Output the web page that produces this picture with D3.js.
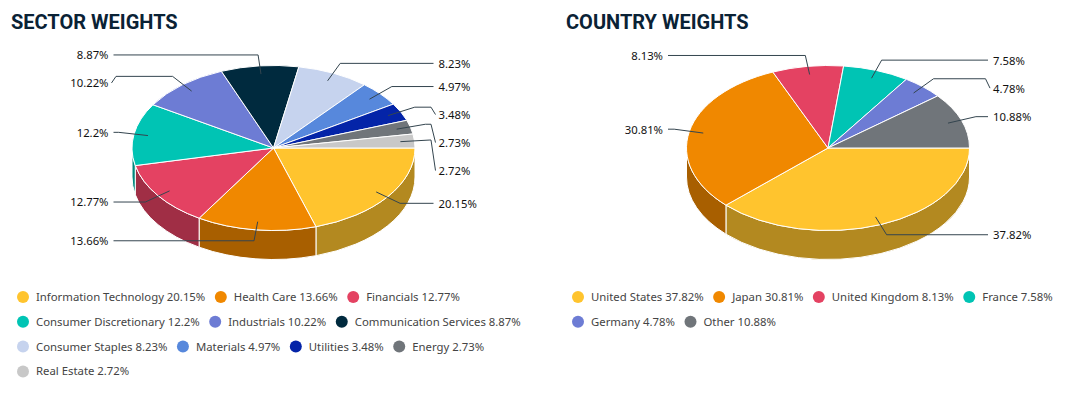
<!DOCTYPE html>
<html>
<head>
<meta charset="utf-8">
<script src="https://cdn.jsdelivr.net/npm/d3@7"></script>
<style>
    html, body { margin: 0; padding: 0; background: #fff; overflow: hidden; }
</style>
</head>
<body>
<div id="body1"></div>
<script>
const sectorNames = ["Information Technology", "Health Care", "Financials", "Consumer Discretionary", "Industrials",
    "Communication Services", "Consumer Staples", "Materials", "Utilities", "Energy", "Real Estate"];
const sectorValues = [20.15, 13.66, 12.77, 12.2, 10.22, 8.87, 8.23, 4.97, 3.48, 2.73, 2.72];
const sectorColors = ["#ffc42e", "#f08800", "#e44262", "#00c4b4", "#6d7cd4", "#002a3e", "#c6d3ee", "#5788dc", "#0424a8", "#70757a", "#c8c8c8"];

const countryNames = ["United States", "Japan", "United Kingdom", "France", "Germany", "Other"];
const countryValues = [37.82, 30.81, 8.13, 7.58, 4.78, 10.88];
const countryColors = ["#ffc42e", "#f08800", "#e44262", "#00c4b4", "#6d7cd4", "#70757a"];

const xSize = 1066; const ySize = 395;
const rx = 141.5; const ry = 82.5; const depth = 29;
const font = "'Noto Sans', sans-serif";

const svg = d3.select("#body1")
    .append("svg")
    .attr("width", xSize)
    .attr("height", ySize)
    .style("display", "block");

function darken(c) {
    const r = d3.rgb(c);
    return d3.rgb(r.r * 0.7, r.g * 0.7, r.b * 0.7).formatHex();
}

function drawPanel(title, names, values, colors, titleX, cx, cy, legendX) {
    const g = svg.append("g");

    g.append("text")
        .attr("x", titleX)
        .attr("y", 29)
        .attr("fill", "#0a2235")
        .style("font", "700 20px Roboto, sans-serif")
        .text(title);

    // Same start as the reference: 3 o'clock, going clockwise
    const pie = d3.pie().sort(null).startAngle(Math.PI / 2).endAngle(Math.PI * 2.5);
    const arcs = pie(values);
    const arc = d3.arc().innerRadius(0).outerRadius(rx);
    const pt = function (t, k, dy) {
        return [cx + rx * k * Math.cos(t), cy + ry * k * Math.sin(t) + (dy || 0)];
    };

    // Side walls, only the front half of the ellipse shows
    arcs.forEach(function (d, i) {
        const t0 = Math.max(d.startAngle - Math.PI / 2, 0);
        const t1 = Math.min(d.endAngle - Math.PI / 2, Math.PI);
        if (t1 <= t0) return;
        const a = pt(t0, 1), b = pt(t1, 1), c = pt(t1, 1, depth), e = pt(t0, 1, depth);
        g.append("path")
            .attr("d", "M" + a + "A" + rx + "," + ry + " 0 0 1 " + b + "L" + c + "A" + rx + "," + ry + " 0 0 0 " + e + "Z")
            .attr("fill", darken(colors[i]))
            .attr("stroke", "#fff")
            .attr("stroke-width", 1);
    });

    // Top of the pie
    g.selectAll("path.slice")
        .data(arcs)
        .enter()
        .append("path")
        .attr("class", "slice")
        .attr("transform", "translate(" + cx + "," + cy + ") scale(1," + ry / rx + ")")
        .attr("d", arc)
        .attr("fill", function (d, i) { return colors[i]; })
        .attr("stroke", "#fff")
        .attr("stroke-width", 1)
        .attr("vector-effect", "non-scaling-stroke");

    // Labels: natural spot on a bigger ellipse, pushed down when they get too close
    const labels = arcs.map(function (d, i) {
        const t = (d.startAngle + d.endAngle) / 2 - Math.PI / 2;
        return {
            t: t,
            right: Math.cos(t) >= 0,
            elbowX: cx + 157 * Math.cos(t),
            natY: cy + 93.5 * Math.sin(t),
            text: values[i] + "%"
        };
    });
    [true, false].forEach(function (side) {
        let prev = -Infinity;
        labels.filter(function (l) { return l.right === side; })
            .sort(function (a, b) { return a.natY - b.natY; })
            .forEach(function (l) {
                l.y = l.natY - prev >= 23 ? l.natY : prev + 28;
                prev = l.y;
            });
    });

    const line = d3.line();
    labels.forEach(function (l) {
        const s = l.right ? 1 : -1;
        const pts = [pt(l.t, 0.9), [l.elbowX, l.natY]];
        if (Math.abs(l.y - l.natY) > 0.5) {
            pts.push([cx + s * 157.5, l.natY]);
            pts.push([cx + s * 162, l.y]);
        } else {
            pts.push([cx + s * 160, l.natY]);
        }
        g.append("path")
            .attr("d", line(pts))
            .attr("fill", "none")
            .attr("stroke", "#34454f")
            .attr("stroke-width", 1);
        g.append("text")
            .attr("x", cx + s * 165)
            .attr("y", l.y + 0.5)
            .attr("dy", "0.35em")
            .attr("text-anchor", l.right ? "start" : "end")
            .attr("fill", "#111")
            .style("font", "11.3px " + font)
            .text(l.text);
    });

    // Legend, wraps the way the original does
    let x = legendX; let row = 0;
    names.forEach(function (name, i) {
        const item = g.append("g");
        item.append("circle").attr("r", 6).attr("cx", 6).attr("cy", 0).attr("fill", colors[i]);
        const txt = item.append("text")
            .attr("x", 19)
            .attr("dy", "0.35em")
            .attr("fill", "#444")
            .style("font", "11.35px " + font)
            .text(name + " " + values[i] + "%");
        const w = 19 + txt.node().getComputedTextLength();
        if (x + w > legendX + 505 && x > legendX) {
            x = legendX;
            row = row + 1;
        }
        item.attr("transform", "translate(" + x + "," + (297 + row * 24.8) + ")");
        x = x + w + 9.5;
    });
}

drawPanel("SECTOR WEIGHTS", sectorNames, sectorValues, sectorColors, 11, 273.5, 148, 17);
drawPanel("COUNTRY WEIGHTS", countryNames, countryValues, countryColors, 566, 828, 148, 572);
</script>
</body>
</html>
